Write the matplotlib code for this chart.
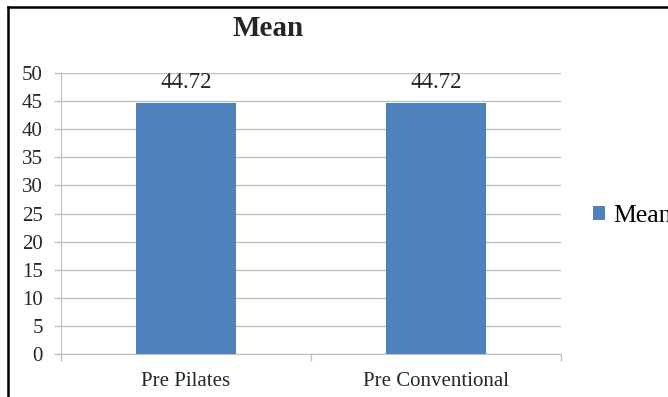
import numpy as np
import matplotlib.pyplot as plt
from matplotlib.lines import Line2D

categories = ["Pre Pilates", "Pre Conventional"]
means = [44.72, 44.72]
yticks = [0, 5, 10, 15, 20, 25, 30, 35, 40, 45, 50]

plt.rcParams['font.family'] = ['Liberation Serif', 'DejaVu Serif']

fig = plt.figure(figsize=(6.68, 3.97), dpi=100, facecolor='w')
ax = fig.add_axes([61/668, 1 - 354/397, 500/668, 281/397])

x = np.arange(len(categories))
bars = ax.bar(x, means, width=0.4, color='#4F81BD', zorder=3, label='Mean')
for xi, v in zip(x, means):
    ax.text(xi, v + 1.8, "{:.2f}".format(v), ha='center', va='bottom',
            fontsize=16.5, color='#262626')

ax.set_xlim(-0.5, len(categories) - 0.5)
ax.set_ylim(0, 50)
ax.set_yticks(yticks)
ax.set_xticks(x)
ax.set_xticklabels(categories)
ax.set_xticks(np.arange(len(categories) + 1) - 0.5, minor=True)
ax.tick_params(axis='x', which='major', length=0, pad=13, labelsize=15, labelcolor='#262626')
ax.tick_params(axis='x', which='minor', length=5, color='#BFBFBF', width=1)
ax.tick_params(axis='y', length=5, color='#BFBFBF', width=1, pad=8,
               labelsize=15, labelcolor='#262626')
ax.grid(True, axis='y', color='#BFBFBF', lw=1, zorder=0)
for s in ['top', 'right']:
    ax.spines[s].set_visible(False)
ax.spines['left'].set_color('#BFBFBF')
ax.spines['bottom'].set_color('#BFBFBF')

fig.text(268/668, 1 - 29/397, "Mean", ha='center', va='center',
         fontsize=21, fontweight='bold', color='#262626')

fig.legend(handles=[bars], labels=['Mean'], loc='center left',
           bbox_to_anchor=(593/668, 1 - 216/397), frameon=False,
           fontsize=18.5, handlelength=0.45, handleheight=0.45, handletextpad=0.35,
           borderaxespad=0, borderpad=0)

# outer chart border (only left and top edges visible in frame)
fig.add_artist(Line2D([8/668, 8/668], [0, 1 - 7/397], transform=fig.transFigure,
                      color='black', lw=1.8))
fig.add_artist(Line2D([8/668, 1], [1 - 7/397, 1 - 7/397], transform=fig.transFigure,
                      color='black', lw=1.8))

fig.savefig('out.png', dpi=100)
